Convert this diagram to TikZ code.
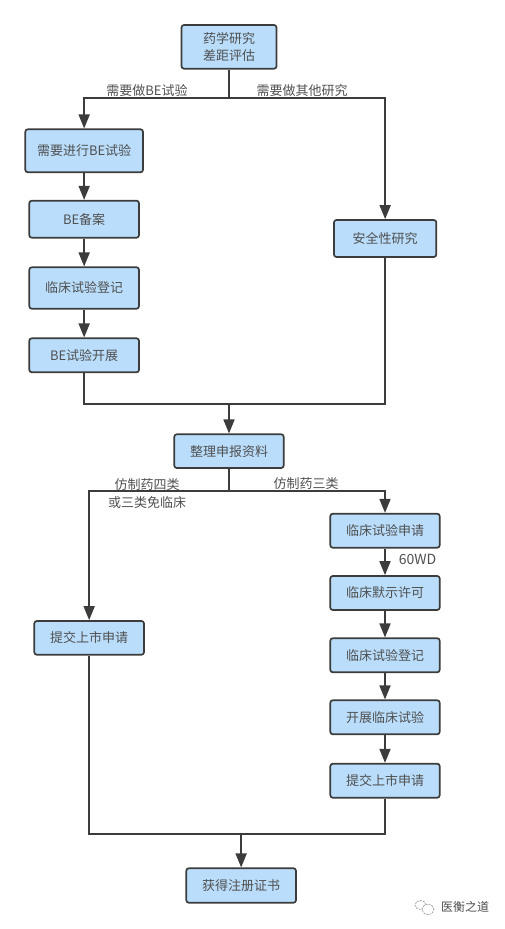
\documentclass[tikz,border=0pt]{standalone}
\usepackage{fontspec}
\newfontfamily\cjk{Noto Sans CJK SC}
\usetikzlibrary{arrows.meta,positioning,calc}
\definecolor{boxfill}{HTML}{B9DDFB}
\definecolor{boxline}{HTML}{3C3C3C}
\definecolor{txt}{HTML}{505050}
\tikzset{
  flowbox/.style={draw=boxline,fill=boxfill,line width=1.7pt,rounded corners=2.5pt,inner sep=0pt,align=center,text=txt,font=\cjk\fontsize{13}{16.5}\selectfont},
  conn/.style={draw=boxline,line width=1.7pt},
  arr/.style={conn,-{Triangle[length=14pt,width=11pt]}},
  lab/.style={text=txt,inner sep=0pt,align=center,font=\cjk\fontsize{13}{17}\selectfont},
  logo/.style={draw=black!45,line width=0.6pt,fill=white}
}
\newcommand{\flowbox}[6]{\node[flowbox,minimum width=#4pt-#2pt,minimum height=#5pt-#3pt] (#1) at ({(#2+#4)/2},{(#3+#5)/2}) {#6};}
\begin{document}
\begin{tikzpicture}[x=1pt,y=-1pt]
\useasboundingbox (0,0) rectangle (504,929);
\flowbox{top}{181.5}{25}{276.5}{68.7}{药学研究\\差距评估}
\flowbox{need}{25.3}{129.3}{143}{172.3}{需要进行BE试验}
\flowbox{bereg}{29.3}{200.7}{139}{237.7}{BE备案}
\flowbox{ctreg}{29.3}{267.3}{139}{308.7}{临床试验登记}
\flowbox{berun}{29.3}{338.3}{139}{372.3}{BE试验开展}
\flowbox{safe}{334}{220}{436.3}{257}{安全性研究}
\flowbox{sort}{174.3}{434.3}{283.7}{468}{整理申报资料}
\flowbox{ctapp}{330.3}{513.7}{439.7}{547.7}{临床试验申请}
\flowbox{ctok}{330.3}{576}{439.7}{610}{临床默示许可}
\flowbox{ctreg2}{330.3}{638.3}{439.7}{672.3}{临床试验登记}
\flowbox{ctrun}{330.3}{700.3}{439.7}{734.3}{开展临床试验}
\flowbox{mktr}{330.3}{763.7}{439.7}{797.7}{提交上市申请}
\flowbox{mktl}{34.3}{621}{144}{654.7}{提交上市申请}
\flowbox{cert}{186.3}{868.3}{296}{902.7}{获得注册证书}
\coordinate (split1) at (top.south |- 0,98.3);
\coordinate (merge1) at (sort.north |- 0,403.7);
\coordinate (split2) at (sort.south |- 0,491.3);
\coordinate (merge2) at (cert.north |- 0,833.7);
\draw[arr] (top.south) -- (split1) -| (need.north);
\draw[arr] (split1) -| (safe.north);
\draw[arr] (need) -- (bereg);
\draw[arr] (bereg) -- (ctreg);
\draw[arr] (ctreg) -- (berun);
\draw[conn] (berun.south) |- (merge1);
\draw[conn] (safe.south) |- (merge1);
\draw[arr] (merge1) -- (sort.north);
\draw[arr] (sort.south) -- (split2) -| (mktl.north);
\draw[arr] (split2) -| (ctapp.north);
\draw[arr] (ctapp) -- (ctok);
\draw[arr] (ctok) -- (ctreg2);
\draw[arr] (ctreg2) -- (ctrun);
\draw[arr] (ctrun) -- (mktr);
\draw[conn] (mktl.south) |- (merge2);
\draw[conn] (mktr.south) |- (merge2);
\draw[arr] (merge2) -- (cert.north);
\node[lab] (l1) at (147,90.5) {需要做BE试验};
\node[lab] (l2) at (302,90.5) {需要做其他研究};
\node[lab] (l3) at (147,485) {仿制药四类};
\node[lab] (l4) at (147,503) {或三类免临床};
\node[lab] (l5) at (306,484) {仿制药三类};
\node[lab,font=\cjk\fontsize{14}{17}\selectfont] (l6) at (417.5,559) {60WD};
\draw[logo,dashed,dash pattern=on 2pt off 1pt] (420.5,905) ellipse [x radius=5.5pt,y radius=4.5pt];
\draw[logo,dashed,dash pattern=on 2pt off 1pt] (428,909.5) ellipse [x radius=6pt,y radius=5pt];
\node[lab,font=\cjk\fontsize{12}{14}\selectfont,text=black!70] (wm) at (465,907) {医衡之道};
\end{tikzpicture}
\end{document}
